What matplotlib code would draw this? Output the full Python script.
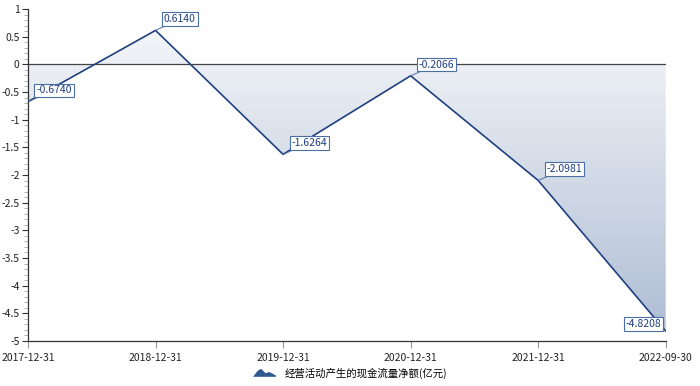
import matplotlib
matplotlib.use("Agg")
import matplotlib.pyplot as plt
import numpy as np
from matplotlib.patches import Polygon
from matplotlib.legend_handler import HandlerPatch
from matplotlib.ticker import MultipleLocator, FuncFormatter

plt.rcParams['font.family'] = ['Noto Sans CJK SC', 'DejaVu Sans']

dates = ["2017-12-31", "2018-12-31", "2019-12-31", "2020-12-31", "2021-12-31", "2022-09-30"]
values = [-0.6740, 0.6140, -1.6264, -0.2066, -2.0981, -4.8208]
series_name = "经营活动产生的现金流量净额(亿元)"

line_color = "#1f3f7f"
box_edge = "#4a6fa5"


class MountainHandler(HandlerPatch):
    def create_artists(self, legend, orig_handle, xdescent, ydescent,
                       width, height, fontsize, trans):
        pts = [(0, 0), (0.2, 0.75), (0.35, 1.0), (0.55, 0.45), (0.7, 0.6),
               (0.85, 0.4), (1.0, 0.15), (1.0, 0)]
        xy = [(-xdescent + px * width, -ydescent + py * height) for px, py in pts]
        p = Polygon(xy, closed=True, facecolor="#2d5a8e", edgecolor="none",
                    transform=trans)
        return [p]


def main():
    fig = plt.figure(figsize=(7.0, 3.86), dpi=100)
    ax = fig.add_axes([0.04, 0.1166, 0.911, 0.86])

    x = np.arange(len(dates))
    y = np.array(values)

    ax.set_xlim(0, len(dates) - 1)
    ax.set_ylim(-5, 1)

    # gradient fill between line and zero (light at top, darker at bottom)
    grad = np.linspace(0, 1, 256).reshape(-1, 1)
    cmap = matplotlib.colors.LinearSegmentedColormap.from_list(
        "g", ["#f8f9fb", "#adbcd3"])
    im = ax.imshow(grad, extent=[0, len(dates) - 1, -5, 1], aspect="auto",
                   cmap=cmap, origin="upper", zorder=1)
    verts = [(x[0], 0)] + list(zip(x, y)) + [(x[-1], 0)]
    clip = Polygon(verts, closed=True, transform=ax.transData,
                   facecolor="none", edgecolor="none")
    ax.add_patch(clip)
    im.set_clip_path(clip)
    ax.set_xlim(0, len(dates) - 1)
    ax.set_ylim(-5, 1)

    ax.plot(x, y, color=line_color, linewidth=1.2, zorder=3)
    ax.axhline(0, color="#444444", linewidth=0.9, zorder=2)

    # value labels
    for i, (xi, yi) in enumerate(zip(x, y)):
        if i == len(x) - 1:
            off = (-3, 1.5)
            ha = "right"
        else:
            off = (6, 4.5)
            ha = "left"
        ax.annotate("%.4f" % yi, xy=(xi, yi), xytext=off,
                    textcoords="offset points", ha=ha, va="bottom",
                    fontsize=7.5, color=line_color, zorder=5,
                    bbox=dict(boxstyle="square,pad=0.18", facecolor="white",
                              edgecolor=box_edge, linewidth=0.8),
                    arrowprops=dict(arrowstyle="-", color=box_edge,
                                    linewidth=0.7, shrinkA=0, shrinkB=0))

    ax.set_xticks(x)
    ax.set_xticklabels(dates, fontsize=7.5, color="#222222")
    ax.yaxis.set_major_locator(MultipleLocator(0.5))
    ax.yaxis.set_minor_locator(MultipleLocator(0.1))
    ax.yaxis.set_major_formatter(FuncFormatter(lambda v, p: ("%g" % v)))
    ax.tick_params(axis="y", which="major", labelsize=7.5, length=4,
                   color="#333333", labelcolor="#222222", pad=2)
    ax.tick_params(axis="y", which="minor", length=3, color="#aaaaaa")
    ax.tick_params(axis="x", length=5, color="#999999", pad=4)

    for s in ["top", "right"]:
        ax.spines[s].set_visible(False)
    ax.spines["left"].set_color("#333333")
    ax.spines["bottom"].set_color("#333333")
    ax.spines["left"].set_linewidth(0.9)
    ax.spines["bottom"].set_linewidth(0.9)

    handle = Polygon([(0, 0), (1, 0), (1, 1)], facecolor="#2d5a8e")
    fig.legend([handle], [series_name], loc="lower center",
               bbox_to_anchor=(0.5, -0.005), frameon=False, fontsize=7.5,
               handler_map={Polygon: MountainHandler()},
               handlelength=2.2, handleheight=0.8)

    fig.savefig("out.png", dpi=100)


main()
